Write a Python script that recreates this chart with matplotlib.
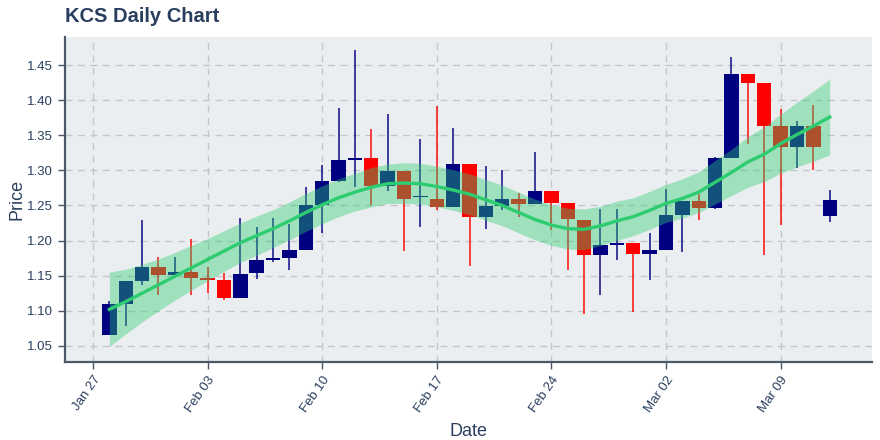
import matplotlib
matplotlib.use('Agg')
import matplotlib.pyplot as plt
import matplotlib.dates as mdates
import pandas as pd

# Daily KCS candles, 2020-01-28 .. 2020-03-12
dates = pd.date_range('2020-01-28', '2020-03-12', freq='D')
opens = [1.066, 1.110, 1.142, 1.163, 1.151, 1.155, 1.147, 1.144, 1.118, 1.154,
         1.173, 1.175, 1.187, 1.250, 1.285, 1.315, 1.318, 1.278, 1.299, 1.262,
         1.259, 1.248, 1.309, 1.234, 1.249, 1.259, 1.252, 1.270, 1.253, 1.230,
         1.179, 1.194, 1.196, 1.181, 1.187, 1.237, 1.256, 1.247, 1.318, 1.437,
         1.424, 1.363, 1.334, 1.363, 1.235]
highs = [1.114, 1.143, 1.230, 1.177, 1.177, 1.202, 1.163, 1.154, 1.232, 1.219,
         1.232, 1.224, 1.276, 1.307, 1.389, 1.471, 1.359, 1.381, 1.299, 1.345,
         1.392, 1.360, 1.309, 1.306, 1.300, 1.268, 1.326, 1.270, 1.253, 1.230,
         1.245, 1.245, 1.196, 1.211, 1.273, 1.257, 1.267, 1.319, 1.462, 1.437,
         1.424, 1.387, 1.371, 1.393, 1.272]
lows = [1.066, 1.078, 1.137, 1.123, 1.151, 1.123, 1.125, 1.116, 1.118, 1.145,
        1.170, 1.158, 1.187, 1.211, 1.283, 1.277, 1.251, 1.271, 1.185, 1.220,
        1.243, 1.248, 1.164, 1.217, 1.243, 1.234, 1.252, 1.215, 1.158, 1.096,
        1.123, 1.172, 1.098, 1.144, 1.187, 1.184, 1.229, 1.245, 1.318, 1.338,
        1.179, 1.222, 1.303, 1.300, 1.226]
closes = [1.110, 1.142, 1.163, 1.151, 1.155, 1.147, 1.144, 1.118, 1.153, 1.173,
          1.175, 1.186, 1.250, 1.285, 1.315, 1.318, 1.278, 1.299, 1.259, 1.264,
          1.248, 1.309, 1.234, 1.249, 1.259, 1.252, 1.270, 1.254, 1.231, 1.179,
          1.193, 1.196, 1.181, 1.186, 1.237, 1.256, 1.247, 1.318, 1.437, 1.424,
          1.363, 1.334, 1.363, 1.333, 1.258]

# smoothed trend and its band half-width
trend = [1.102, 1.113, 1.125, 1.137, 1.149, 1.161, 1.173, 1.185, 1.197, 1.207,
         1.217, 1.228, 1.240, 1.251, 1.261, 1.269, 1.276, 1.281, 1.282, 1.281,
         1.277, 1.272, 1.266, 1.258, 1.250, 1.240, 1.230, 1.222, 1.217, 1.216,
         1.221, 1.228, 1.234, 1.243, 1.253, 1.260, 1.269, 1.283, 1.297, 1.312,
         1.323, 1.338, 1.351, 1.363, 1.376]
band = [0.053, 0.046, 0.041, 0.037, 0.034, 0.032, 0.030, 0.029, 0.028, 0.028,
        0.027, 0.027, 0.027, 0.027, 0.027, 0.027, 0.028, 0.028, 0.029, 0.029,
        0.029, 0.029, 0.029, 0.029, 0.029, 0.029, 0.029, 0.029, 0.029, 0.029,
        0.028, 0.028, 0.027, 0.027, 0.027, 0.028, 0.029, 0.031, 0.033, 0.036,
        0.039, 0.042, 0.046, 0.050, 0.054]

upper = [t + b for t, b in zip(trend, band)]
lower = [t - b for t, b in zip(trend, band)]

text_col = '#2a3f5f'
up_col = '#000080'
down_col = '#ff0000'
green = '#2ecc71'

plt.rcParams['font.family'] = ['Liberation Sans', 'DejaVu Sans']

fig, ax = plt.subplots(figsize=(8.8, 4.4), dpi=100)
fig.subplots_adjust(left=65/880, right=872/880, top=1-37/440, bottom=1-362/440)
ax.set_facecolor('#ebeef0')

x = mdates.date2num(dates)
for xi, o, h, l, c in zip(x, opens, highs, lows, closes):
    col = up_col if c >= o else down_col
    ax.vlines(xi, l, h, color=col, linewidth=1.3, alpha=0.8, zorder=2)
    bottom = min(o, c)
    height = max(abs(c - o), 0.0012)
    ax.bar(xi, height, bottom=bottom, width=0.88, color=col, linewidth=0, zorder=3)

# confidence band sits over the candles, like the original
ax.fill_between(x, lower, upper, color=green, alpha=0.4, linewidth=0, zorder=4)
ax.plot(x, trend, color=green, linewidth=2.4, zorder=5)

ax.set_xlim(mdates.date2num(pd.Timestamp('2020-01-25 07:00')),
            mdates.date2num(pd.Timestamp('2020-03-14 14:00')))
ax.set_ylim(1.027, 1.490)

ticks = pd.to_datetime(['2020-01-27', '2020-02-03', '2020-02-10', '2020-02-17',
                        '2020-02-24', '2020-03-02', '2020-03-09'])
ax.set_xticks(mdates.date2num(ticks))
ax.set_xticklabels([d.strftime('%b %d') for d in ticks], rotation=55,
                   ha='right', rotation_mode='anchor')
yticks = [1.05, 1.10, 1.15, 1.20, 1.25, 1.30, 1.35, 1.40, 1.45]
ax.set_yticks(yticks)
ax.set_yticklabels(['%.2f' % v for v in yticks])

ax.grid(True, color='#c4c7ca', linestyle=(0, (5, 4)), linewidth=1.0, zorder=0)
ax.set_axisbelow(True)
for side in ['top', 'right']:
    ax.spines[side].set_visible(False)
for side in ['left', 'bottom']:
    ax.spines[side].set_color('#4a5868')
    ax.spines[side].set_linewidth(1.6)
ax.tick_params(colors='#4a5868', labelcolor=text_col, labelsize=9.5, length=5, width=1)

ax.set_xlabel('Date', fontsize=13, color=text_col, labelpad=6)
ax.set_ylabel('Price', fontsize=13, color=text_col, labelpad=1)
fig.text(65/880, 1-22/440, 'KCS Daily Chart', fontsize=14.5, fontweight='bold',
         color=text_col, ha='left', va='baseline')

plt.savefig('out.png', dpi=100)
